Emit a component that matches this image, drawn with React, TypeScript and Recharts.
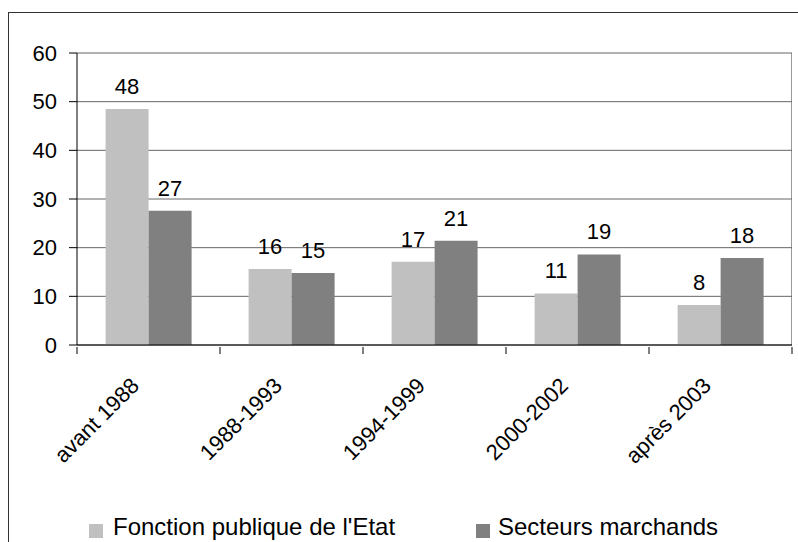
import { Bar, BarChart, CartesianGrid, LabelList, XAxis, YAxis } from "recharts";

const periods = ["avant 1988", "1988-1993", "1994-1999", "2000-2002", "après 2003"];
const fonctionPublique = [48.5, 15.6, 17.1, 10.6, 8.2];
const secteursMarchands = [27.6, 14.8, 21.4, 18.6, 17.9];
const fonctionPubliqueLabels = ["48", "16", "17", "11", "8"];
const secteursMarchandsLabels = ["27", "15", "21", "19", "18"];
const yTicks = [0, 10, 20, 30, 40, 50, 60];

const data = periods.map((p, i) => ({
  period: p,
  fp: fonctionPublique[i],
  sm: secteursMarchands[i],
  fpLabel: fonctionPubliqueLabels[i],
  smLabel: secteursMarchandsLabels[i],
}));

const FONT = '"Liberation Sans", Arial, sans-serif';
const CHART_W = 798;
const CHART_H = 542;
const MARGIN = { top: 53, right: 6, left: 0, bottom: 0 };
const X_AXIS_H = 197;
const PLOT_H = CHART_H - MARGIN.top - MARGIN.bottom - X_AXIS_H;

// category tick: rotated label plus tick marks on the band boundaries
function PeriodTick({ x, y, payload, width, visibleTicksCount, index }: any) {
  const band = width / visibleTicksCount;
  const ax = x - 8;
  const ay = y + 40;
  const last = index === visibleTicksCount - 1;
  return (
    <g>
      <line x1={x - band / 2} x2={x - band / 2} y1={y} y2={y + 7} stroke="#000" />
      {last && <line x1={x + band / 2} x2={x + band / 2} y1={y} y2={y + 7} stroke="#000" />}
      <text
        x={ax}
        y={ay}
        textAnchor="end"
        transform={`rotate(-45, ${ax}, ${ay})`}
        fontSize={22}
        fontFamily={FONT}
        fill="#000"
      >
        {payload.value}
      </text>
    </g>
  );
}

export default function App() {
  return (
    <div style={{ position: "relative", width: CHART_W, height: CHART_H, overflow: "hidden", background: "#fff" }}>
      <style>{`body{margin:0;overflow:hidden}`}</style>
      <div
        style={{
          position: "absolute",
          left: 8,
          top: 12,
          width: 820,
          height: 620,
          border: "1px solid #333",
        }}
      />
      {/* grey frame on the right edge of the plot area */}
      <div
        style={{
          position: "absolute",
          left: CHART_W - MARGIN.right - 1,
          top: MARGIN.top,
          width: 1,
          height: PLOT_H,
          background: "#999",
        }}
      />
      <div style={{ position: "absolute", left: 0, top: 0 }}>
        <BarChart
          width={CHART_W}
          height={CHART_H}
          data={data}
          margin={MARGIN}
          barCategoryGap="20%"
          barGap={0}
        >
          <CartesianGrid vertical={false} stroke="#666" />
          <XAxis
            dataKey="period"
            height={X_AXIS_H}
            interval={0}
            tickLine={false}
            tickSize={0}
            axisLine={{ stroke: "#000" }}
            tick={<PeriodTick />}
          />
          <YAxis
            width={77}
            domain={[0, 60]}
            ticks={yTicks}
            tickSize={8}
            tickMargin={12}
            axisLine={{ stroke: "#000" }}
            tickLine={{ stroke: "#000" }}
            tick={{ fontSize: 22, fontFamily: FONT, fill: "#000" }}
          />
          <Bar dataKey="fp" fill="#c0c0c0" isAnimationActive={false}>
            <LabelList dataKey="fpLabel" position="top" offset={15} fontSize={22} fontFamily={FONT} fill="#000" />
          </Bar>
          <Bar dataKey="sm" fill="#808080" isAnimationActive={false}>
            <LabelList dataKey="smLabel" position="top" offset={15} fontSize={22} fontFamily={FONT} fill="#000" />
          </Bar>
        </BarChart>
      </div>
      <div style={{ position: "absolute", left: 89, top: 524, width: 14, height: 14, background: "#c0c0c0" }} />
      <div style={{ position: "absolute", left: 113, top: 513, fontSize: 24, fontFamily: FONT, lineHeight: "28px", whiteSpace: "nowrap" }}>
        Fonction publique de l'Etat
      </div>
      <div style={{ position: "absolute", left: 476, top: 524, width: 14, height: 14, background: "#808080" }} />
      <div style={{ position: "absolute", left: 498, top: 513, fontSize: 24, fontFamily: FONT, lineHeight: "28px", whiteSpace: "nowrap" }}>
        Secteurs marchands
      </div>
    </div>
  );
}
